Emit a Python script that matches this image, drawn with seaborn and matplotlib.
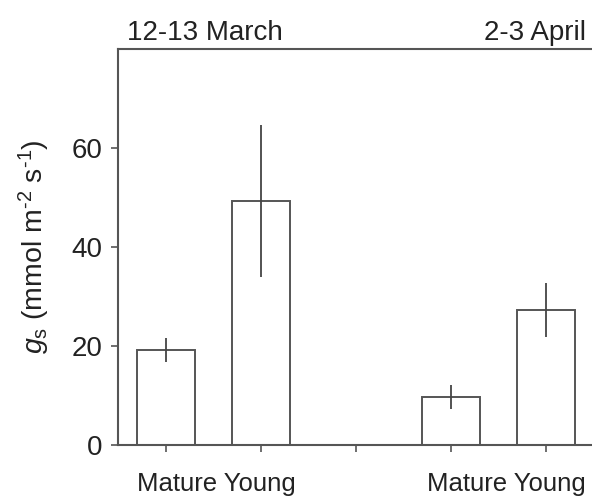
import matplotlib
matplotlib.use("Agg")
import matplotlib.pyplot as plt
import seaborn as sns
import pandas as pd
import numpy as np

# Data
slots = ["Mar_Mature", "Mar_Young", "gap", "Apr_Mature", "Apr_Young"]
bar_slots = ["Mar_Mature", "Mar_Young", "Apr_Mature", "Apr_Young"]
means = [19.2, 49.3, 9.7, 27.3]
errors = [2.5, 15.3, 2.4, 5.4]
period_titles = ["12-13 March", "2-3 April"]
group_labels = ["Mature Young", "Mature Young"]
yticks = [0, 20, 40, 60]

sns.set_theme(style="white")
plt.rcParams['font.family'] = ['Liberation Sans', 'DejaVu Sans']
plt.rcParams['mathtext.fontset'] = 'custom'
plt.rcParams['mathtext.rm'] = 'Liberation Sans'
plt.rcParams['mathtext.it'] = 'Liberation Sans:italic'

fig = plt.figure(figsize=(5.92, 4.98), dpi=100)
ax = fig.add_axes([118/592, 53/498, (593.5-118)/592, 396/498])

df = pd.DataFrame({"slot": bar_slots, "value": means})
sns.barplot(data=df, x="slot", y="value", order=slots, ax=ax,
            color="white", edgecolor="#555555", linewidth=1.4, width=0.61,
            errorbar=None, saturation=1)

pos = [slots.index(s) for s in bar_slots]
ax.errorbar(pos, means, yerr=errors, fmt="none", ecolor="#444444",
            elinewidth=1.3, capsize=0)

ax.set_xlim(-0.5, 4.5)
ax.set_ylim(0, 80)
ax.set_yticks(yticks)
ax.set_yticklabels([str(t) for t in yticks], fontsize=20, color="#222222")
ax.set_xticks(range(len(slots)))
ax.set_xticklabels([""] * len(slots))
ax.set_xlabel("")
ax.set_ylabel(r"$\mathit{g}_\mathrm{s}$ (mmol m$^{\text{-2}}$ s$^{\text{-1}}$)", fontsize=20.5,
              color="#222222", labelpad=14)

for side in ["left", "top", "bottom"]:
    ax.spines[side].set_visible(True)
    ax.spines[side].set_color("#555555")
    ax.spines[side].set_linewidth(1.5)
ax.spines["right"].set_visible(False)
ax.tick_params(axis="both", which="major", direction="out", length=5,
               width=1.2, color="#555555", left=True, bottom=True, pad=6)

# group labels under bars
trans = matplotlib.transforms.blended_transform_factory(ax.transData, fig.transFigure)
for xc, lab in zip([0.53, 3.58], group_labels):
    ax.text(xc, (498-491)/498, lab, transform=trans, ha="center", va="baseline",
            fontsize=18.5, color="#222222")

fig.text(127/592, (498-40)/498, period_titles[0], ha="left", va="baseline",
         fontsize=20, color="#222222")
fig.text(586/592, (498-40)/498, period_titles[1], ha="right", va="baseline",
         fontsize=20, color="#222222")

fig.savefig("out.png", dpi=100)
